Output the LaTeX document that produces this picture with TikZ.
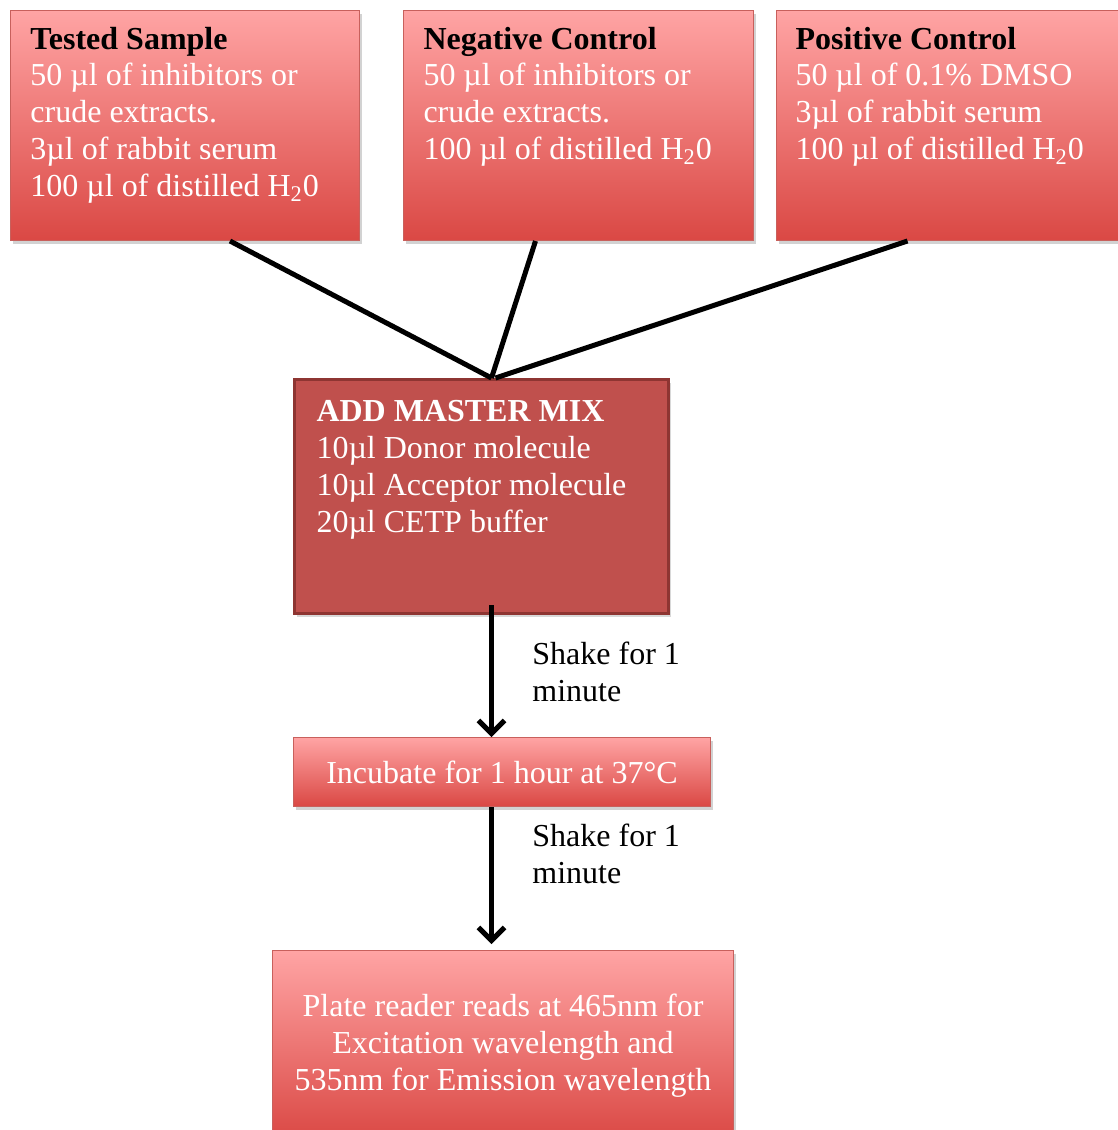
\documentclass[tikz,border=0pt]{standalone}
\usepackage{fontspec}
\setmainfont{Liberation Serif}
\usepackage{tikz}
\usetikzlibrary{positioning,arrows.meta,calc,shadows}
\definecolor{boxtop}{HTML}{FFA4A4}
\definecolor{boxbot}{HTML}{DA4844}
\definecolor{boxline}{HTML}{C8605C}
\definecolor{mixfill}{HTML}{C0504D}
\definecolor{mixline}{HTML}{8E3532}

\begin{document}
\begin{tikzpicture}[x=0.5pt,y=-0.5pt,
  every node/.style={font=\fontsize{16}{18.4}\selectfont},
  redbox/.style={rectangle,anchor=north west,inner sep=0pt,top color=boxtop,bottom color=boxbot,
    draw=boxline,line width=0.5pt,drop shadow={shadow xshift=1pt,shadow yshift=-1.5pt,opacity=0.35}},
  mixbox/.style={rectangle,anchor=north west,inner sep=0pt,fill=mixfill,draw=mixline,line width=1.5pt,
    drop shadow={shadow xshift=1pt,shadow yshift=-1.5pt,opacity=0.3}},
  note/.style={anchor=north west,inner sep=0pt,align=left},
  link/.style={line width=2.5pt},
  arr/.style={line width=2.5pt,-{Straight Barb[length=6.5pt,width=13pt,line width=2.5pt]}}]
  \useasboundingbox (0,0) rectangle (1118,1130);
  \fill[white] (0,0) rectangle (1118,1130);
  % top row of samples
  \node[redbox] (ts) at (10,10) {\parbox[t][115pt][t]{174.5pt}{\vspace*{8.2pt}\hspace*{10pt}%
    \parbox[t]{160pt}{\textbf{Tested Sample}\\ \color{white}50 µl of inhibitors or\\ crude extracts.\\ 3µl of rabbit serum\\ 100 µl of distilled H\textsubscript{2}0}}};
  \node[redbox] (nc) at (403,10) {\parbox[t][115pt][t]{175pt}{\vspace*{8.2pt}\hspace*{10pt}%
    \parbox[t]{160pt}{\textbf{Negative Control}\\ \color{white}50 µl of inhibitors or\\ crude extracts.\\ 100 µl of distilled H\textsubscript{2}0}}};
  \node[redbox] (pc) at (776,10) {\parbox[t][115pt][t]{175pt}{\vspace*{8.2pt}\hspace*{9.5pt}%
    \parbox[t]{160pt}{\textbf{Positive Control}\\ \color{white}50 µl of 0.1\% DMSO\\ 3µl of rabbit serum\\ 100 µl of distilled H\textsubscript{2}0}}};
  % master mix
  \node[mixbox] (mm) at (293,378) {\parbox[t][117pt][t]{187pt}{\vspace*{10.5pt}\hspace*{11pt}%
    \parbox[t]{170pt}{\color{white}\textbf{ADD MASTER MIX}\\ 10µl Donor molecule\\ 10µl Acceptor molecule\\ 20µl CETP buffer}}};
  \node[redbox,minimum width=208.5pt,minimum height=34.5pt,text=white] (inc) at (293,737) {Incubate for 1 hour at 37°C};
  \node[redbox,minimum width=230.5pt,minimum height=95pt,text=white,align=center] (pr) at (272,950)
    {Plate reader reads at 465nm for\\ Excitation wavelength and\\ 535nm for Emission wavelength};
  % connectors
  \draw[link] ($(ts.south)+(45,0)$) -- ($(mm.north)+(10,0)$);
  \draw[link] ($(nc.south)+(-43,0)$) -- ($(mm.north)+(10,0)$);
  \draw[link] ($(pc.south)+(-44,0)$) -- ($(mm.north)+(14,0)$);
  \coordinate (m1) at ($(mm.south)+(10,-10)$);
  \draw[arr] (m1) -- (m1 |- inc.north);
  \draw[arr,shorten >=3pt] (m1 |- inc.south) -- (m1 |- pr.north);
  \node[note] (sk1) at (532,642) {Shake for 1\\ minute};
  \node[note] (sk2) at (532,824) {Shake for 1\\ minute};
\end{tikzpicture}
\end{document}
